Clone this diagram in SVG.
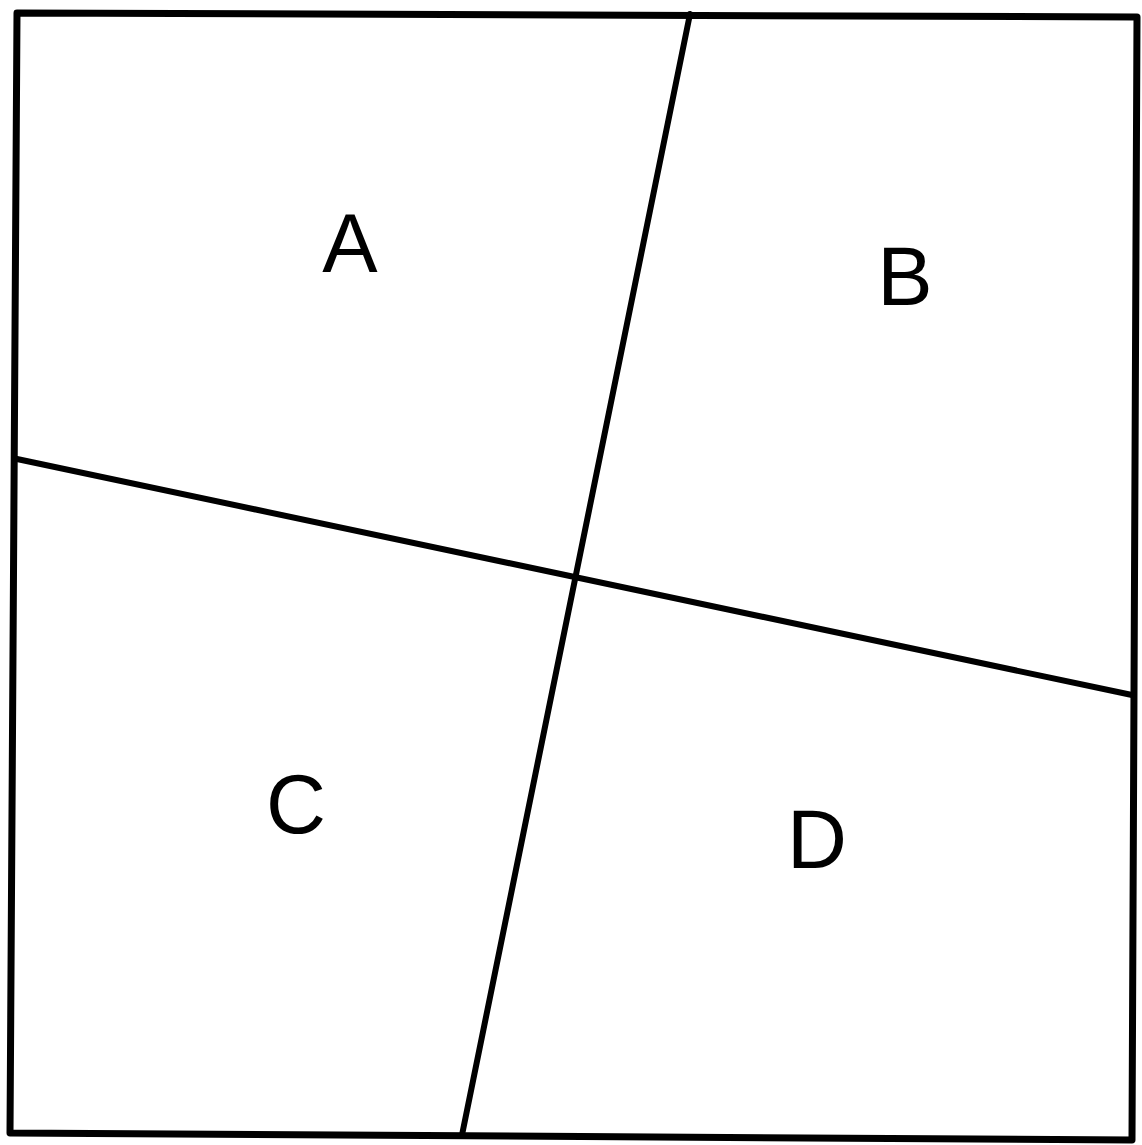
<svg xmlns="http://www.w3.org/2000/svg" width="1142" height="1145" viewBox="0 0 1142 1145">
  <style>
    .ln { fill: none; stroke: #000; stroke-linecap: round; stroke-linejoin: round; }
    .frame { stroke-width: 7; }
    .div { stroke-width: 6; }
    .lbl { font-family: "Liberation Sans", Arial, sans-serif; font-size: 83px; fill: #000; text-anchor: middle; }
  </style>
  <rect x="0" y="0" width="1142" height="1145" fill="#fff"/>
  <g id="frame">
    <polygon class="ln frame" points="17,13 1137,17 1132,1140 10,1133"/>
  </g>
  <g id="dividers">
    <line class="ln div" x1="690" y1="14" x2="462" y2="1135"/>
    <line class="ln div" x1="17" y1="459" x2="1132" y2="695"/>
  </g>
  <g id="region-A"><text class="lbl" x="350" y="272">A</text></g>
  <g id="region-B"><text class="lbl" x="905" y="305">B</text></g>
  <g id="region-C"><text class="lbl" x="296" y="833">C</text></g>
  <g id="region-D"><text class="lbl" x="817" y="868">D</text></g>
</svg>
